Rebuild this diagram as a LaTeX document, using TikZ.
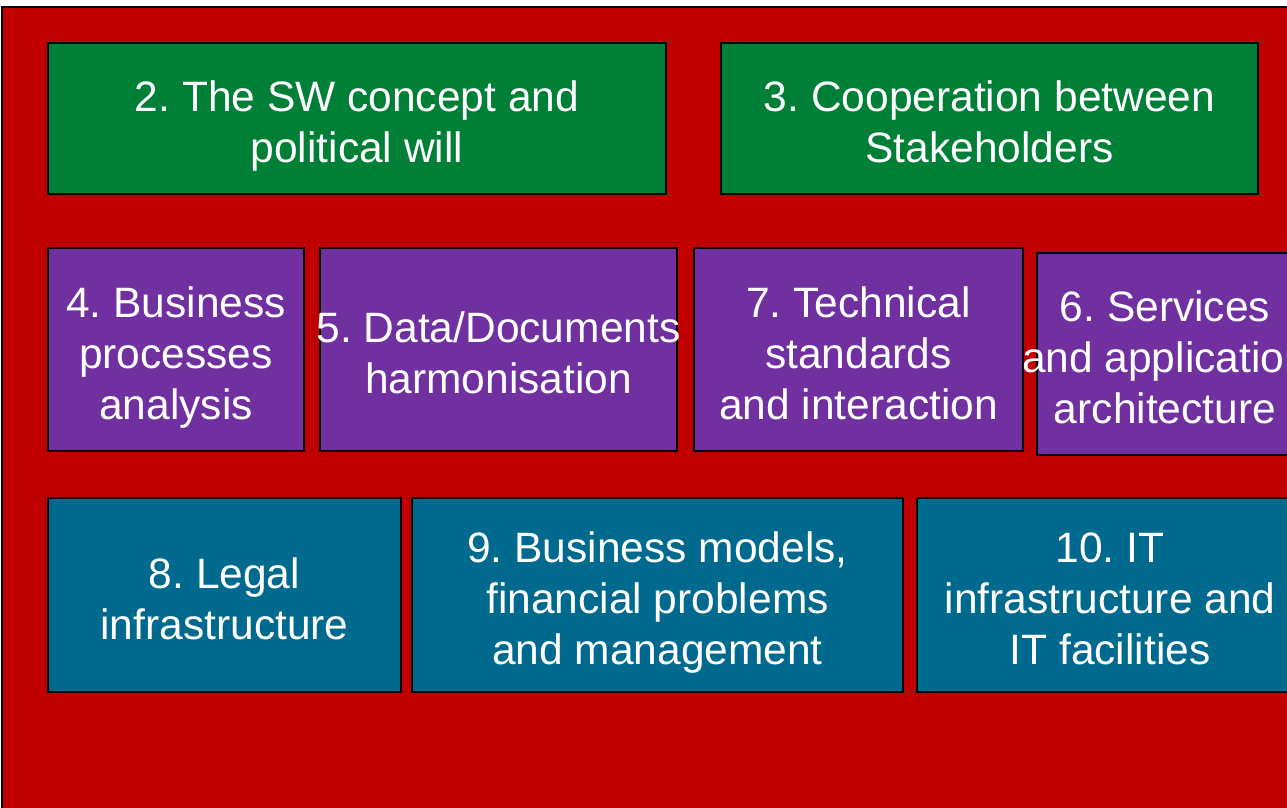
\documentclass[tikz,border=0pt]{standalone}
\usepackage{fontspec}
\setmainfont{Liberation Sans}
\definecolor{bgred}{HTML}{C00000}
\definecolor{swgreen}{HTML}{007F37}
\definecolor{swpurple}{HTML}{7030A0}
\definecolor{swteal}{HTML}{006A8E}
\newcommand{\lne}[1]{\rule[-4.5pt]{0pt}{46.5pt}\smash{#1}}
\newcommand{\wide}[1]{\makebox[0pt]{#1}}
\begin{document}
\begin{tikzpicture}[x=1pt,y=-1pt,
  box/.style={draw=black, line width=2pt, inner sep=0pt, text=white, align=center,
    font=\fontsize{42.5}{51}\selectfont\frenchspacing},
  greenbox/.style={box, fill=swgreen, minimum height=151pt},
  purplebox/.style={box, fill=swpurple, minimum height=203pt},
  tealbox/.style={box, fill=swteal, minimum height=194pt}]
\useasboundingbox (0,0) rectangle (1287,808);
\clip (0,0) rectangle (1287,808);
\filldraw[fill=bgred, draw=black, line width=2pt] (2,7) rectangle (1300,820);
% row 1
\node[greenbox, minimum width=618pt] (n2) at (357,118.5) {\lne{2. The SW concept and}\\\lne{political will}};
\node[greenbox, minimum width=537pt] (n3) at (989.5,118.5) {\lne{3. Cooperation between}\\\lne{Stakeholders}};
% row 2
\node[purplebox, minimum width=256pt] (n4) at (176,349.5) {\lne{4. Business}\\\lne{processes}\\\lne{analysis}};
\node[purplebox, minimum width=357pt] (n5) at (498.5,349.5) {\wide{\lne{5. Data/Documents}}\\\lne{harmonisation}};
\node[purplebox, minimum width=329pt] (n7) at (858.5,349.5) {\lne{7. Technical}\\\lne{standards}\\\lne{and interaction}};
\node[purplebox, minimum width=256pt, minimum height=202pt] (n6) at (1165,354) {\lne{6. Services}\\\wide{\lne{and application}}\\\lne{architecture}};
% row 3
\node[tealbox, minimum width=353pt] (n8) at (224.5,595) {\lne{8. Legal}\\\lne{infrastructure}};
\node[tealbox, minimum width=491pt] (n9) at (657.5,595) {\lne{9. Business models,}\\\lne{financial problems}\\\lne{and management}};
\node[tealbox, minimum width=386pt] (n10) at (1110,595) {\lne{10. IT}\\\lne{infrastructure and}\\\lne{IT facilities}};
\end{tikzpicture}
\end{document}
